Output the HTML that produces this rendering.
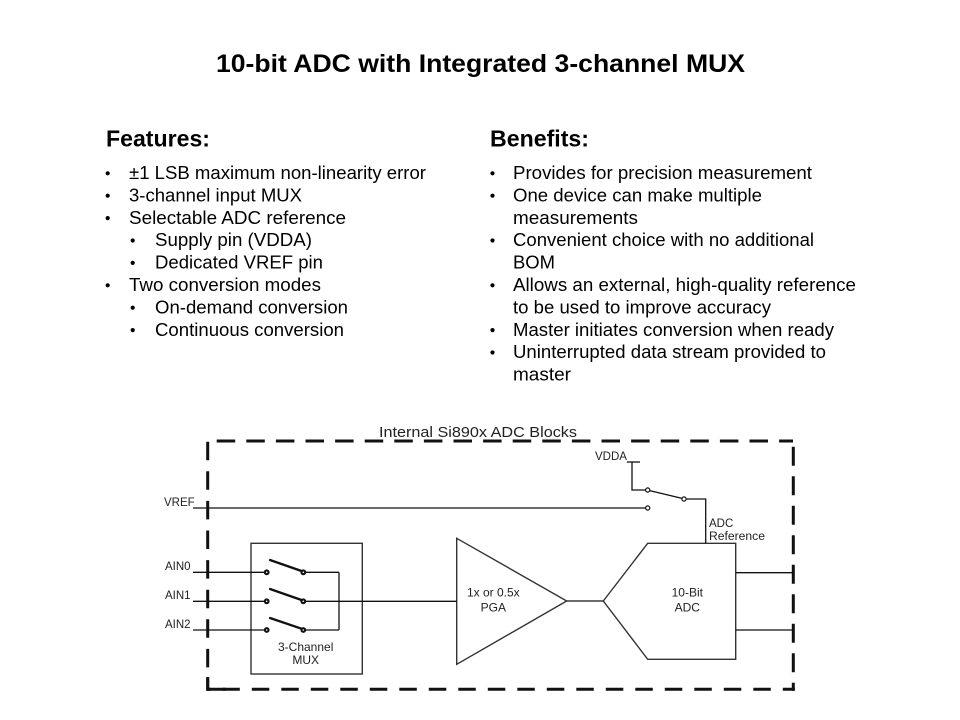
<!DOCTYPE html>
<html>
<head>
<meta charset="utf-8">
<style>
html,body{margin:0;padding:0;background:#fff;}
svg{display:block;}
text{font-family:"Liberation Sans",Arial,sans-serif;}
</style>
</head>
<body>
<svg width="960" height="720" viewBox="0 0 960 720" xmlns="http://www.w3.org/2000/svg">
<rect width="960" height="720" fill="#fff"/>

<!-- Title -->
<text x="216" y="72" font-size="25" font-weight="bold" fill="#000" textLength="529" lengthAdjust="spacingAndGlyphs">10-bit ADC with Integrated 3-channel MUX</text>

<!-- Headings -->
<text x="106" y="146.7" font-size="23" font-weight="bold" fill="#000" textLength="104" lengthAdjust="spacingAndGlyphs">Features:</text>
<text x="490" y="146.7" font-size="23" font-weight="bold" fill="#000" textLength="99" lengthAdjust="spacingAndGlyphs">Benefits:</text>

<!-- Features bullets -->
<g fill="#000">
<circle cx="107.7" cy="173.3" r="2.1"/>
<circle cx="107.7" cy="195.7" r="2.1"/>
<circle cx="107.7" cy="218.1" r="2.1"/>
<circle cx="132.7" cy="240.5" r="2.1"/>
<circle cx="132.7" cy="262.9" r="2.1"/>
<circle cx="107.7" cy="285.3" r="2.1"/>
<circle cx="132.7" cy="307.7" r="2.1"/>
<circle cx="132.7" cy="330.1" r="2.1"/>
</g>
<g font-size="18.5" fill="#000">
<text x="129" y="179" textLength="297" lengthAdjust="spacingAndGlyphs">±1 LSB maximum non-linearity error</text>
<text x="129" y="201.4" textLength="173" lengthAdjust="spacingAndGlyphs">3-channel input MUX</text>
<text x="129" y="223.8" textLength="217" lengthAdjust="spacingAndGlyphs">Selectable ADC reference</text>
<text x="155" y="246.2" textLength="157" lengthAdjust="spacingAndGlyphs">Supply pin (VDDA)</text>
<text x="155" y="268.6" textLength="168" lengthAdjust="spacingAndGlyphs">Dedicated VREF pin</text>
<text x="129" y="291" textLength="192" lengthAdjust="spacingAndGlyphs">Two conversion modes</text>
<text x="155" y="313.4" textLength="193" lengthAdjust="spacingAndGlyphs">On-demand conversion</text>
<text x="155" y="335.8" textLength="189" lengthAdjust="spacingAndGlyphs">Continuous conversion</text>
</g>

<!-- Benefits bullets -->
<g fill="#000">
<circle cx="492.5" cy="173.3" r="2.1"/>
<circle cx="492.5" cy="195.7" r="2.1"/>
<circle cx="492.5" cy="240.5" r="2.1"/>
<circle cx="492.5" cy="285.3" r="2.1"/>
<circle cx="492.5" cy="330.1" r="2.1"/>
<circle cx="492.5" cy="352.5" r="2.1"/>
</g>
<g font-size="18.5" fill="#000">
<text x="513" y="179" textLength="299" lengthAdjust="spacingAndGlyphs">Provides for precision measurement</text>
<text x="513" y="201.4" textLength="249" lengthAdjust="spacingAndGlyphs">One device can make multiple</text>
<text x="513" y="223.8" textLength="125" lengthAdjust="spacingAndGlyphs">measurements</text>
<text x="513" y="246.2" textLength="301" lengthAdjust="spacingAndGlyphs">Convenient choice with no additional</text>
<text x="513" y="268.6" textLength="42" lengthAdjust="spacingAndGlyphs">BOM</text>
<text x="513" y="291" textLength="343" lengthAdjust="spacingAndGlyphs">Allows an external, high-quality reference</text>
<text x="513" y="313.4" textLength="258" lengthAdjust="spacingAndGlyphs">to be used to improve accuracy</text>
<text x="513" y="335.8" textLength="321" lengthAdjust="spacingAndGlyphs">Master initiates conversion when ready</text>
<text x="513" y="358.2" textLength="313" lengthAdjust="spacingAndGlyphs">Uninterrupted data stream provided to</text>
<text x="513" y="380.6" textLength="58" lengthAdjust="spacingAndGlyphs">master</text>
</g>

<!-- Diagram: dashed boundary -->
<g stroke="#111" stroke-width="3" fill="none" stroke-dasharray="18.5 11.1">
<line x1="216.7" y1="441" x2="793" y2="441"/>
<line x1="207.7" y1="441.7" x2="207.7" y2="689"/>
</g>
<g stroke="#111" stroke-width="3" fill="none" stroke-dasharray="17.5 12" stroke-dashoffset="5.5">
<line x1="794.8" y1="689.3" x2="207.7" y2="689.3"/>
</g>
<g stroke="#111" stroke-width="3" fill="none" stroke-dasharray="19 10.5" stroke-dashoffset="11">
<line x1="793.3" y1="690.8" x2="793.3" y2="445"/>
</g>
<g stroke="#111" stroke-width="3" fill="none">
<line x1="207.7" y1="677" x2="207.7" y2="690.8"/>
<line x1="206.2" y1="689.3" x2="226" y2="689.3"/>
</g>

<text x="379" y="437" font-size="15" fill="#222" textLength="198" lengthAdjust="spacingAndGlyphs">Internal Si890x ADC Blocks</text>

<!-- Diagram labels -->
<g font-size="11.5" fill="#222">
<text x="164" y="506">VREF</text>
<text x="165" y="570">AIN0</text>
<text x="165" y="599">AIN1</text>
<text x="165" y="628">AIN2</text>
<text x="595" y="460">VDDA</text>
<text x="709" y="527">ADC</text>
<text x="709" y="540" textLength="56" lengthAdjust="spacingAndGlyphs">Reference</text>
</g>
<g font-size="12" fill="#222" text-anchor="middle">
<text x="305.7" y="651">3-Channel</text>
<text x="305.7" y="664">MUX</text>
<text x="493.3" y="596.7">1x or 0.5x</text>
<text x="493.3" y="611.7">PGA</text>
<text x="687.3" y="596.7">10-Bit</text>
<text x="687.3" y="611.7">ADC</text>
</g>

<!-- Blocks -->
<g stroke="#333" stroke-width="1.4" fill="none">
<rect x="251" y="543.3" width="111.3" height="130.7"/>
<polygon points="456.7,538.3 566.7,601 456.7,664.3"/>
<polygon points="603.3,601 647.7,543.3 735.7,543.3 735.7,659.3 647.7,659.3"/>
</g>

<!-- Wires -->
<g stroke="#111" stroke-width="1.3" fill="none">
<line x1="193" y1="508" x2="645.6" y2="508"/>
<line x1="627" y1="462" x2="640" y2="462"/>
<polyline points="632,462 632,490 645.6,490"/>
<line x1="649.6" y1="490.6" x2="682.1" y2="498.4"/>
<polyline points="686.1,499 705.7,499 705.7,543.3"/>
<line x1="193" y1="572.3" x2="266.7" y2="572.3"/>
<line x1="193" y1="601.3" x2="266.7" y2="601.3"/>
<line x1="193" y1="630" x2="266.7" y2="630"/>
<line x1="303.3" y1="572.3" x2="339" y2="572.3"/>
<line x1="303.3" y1="630" x2="339" y2="630"/>
<line x1="339" y1="572.3" x2="339" y2="630"/>
<line x1="303.3" y1="601.3" x2="456.7" y2="601.3"/>
<line x1="566.7" y1="601" x2="603.3" y2="601"/>
<line x1="735.7" y1="572.7" x2="793" y2="572.7"/>
<line x1="735.7" y1="630" x2="793" y2="630"/>
</g>

<!-- open contacts -->
<g stroke="#111" stroke-width="1.2" fill="#fff">
<circle cx="647.7" cy="508" r="2.1"/>
<circle cx="647.7" cy="490" r="2.1"/>
<circle cx="684" cy="499" r="2.1"/>
</g>

<!-- MUX switch levers -->
<g stroke="#111" stroke-width="2.3" stroke-linecap="round">
<line x1="270" y1="560" x2="301.5" y2="571"/>
<line x1="270" y1="589" x2="301.5" y2="600"/>
<line x1="270" y1="618" x2="301.5" y2="628.7"/>
</g>
<g fill="#111">
<circle cx="266.7" cy="572.3" r="2.9"/>
<circle cx="303.3" cy="572.3" r="2.9"/>
<circle cx="266.7" cy="601.3" r="2.9"/>
<circle cx="303.3" cy="601.3" r="2.9"/>
<circle cx="266.7" cy="630" r="2.9"/>
<circle cx="303.3" cy="630" r="2.9"/>
</g>
<g fill="#fff">
<circle cx="266.7" cy="572.3" r="0.8"/>
<circle cx="303.3" cy="572.3" r="0.8"/>
<circle cx="266.7" cy="601.3" r="0.8"/>
<circle cx="303.3" cy="601.3" r="0.8"/>
<circle cx="266.7" cy="630" r="0.8"/>
<circle cx="303.3" cy="630" r="0.8"/>
</g>
</svg>
</body>
</html>
